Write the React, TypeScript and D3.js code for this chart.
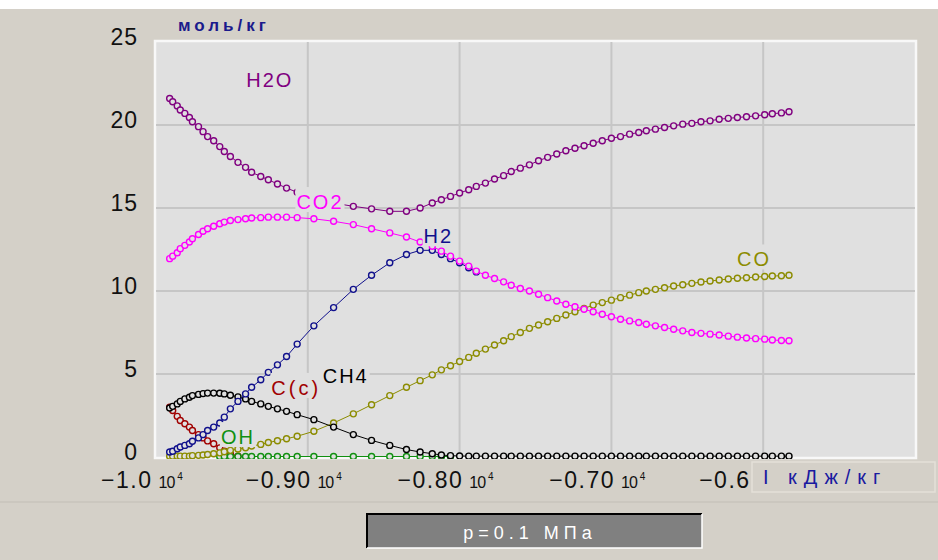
import React, { useRef, useEffect } from 'react';
import * as d3 from 'd3';

// enthalpy I, x 10^4 kJ/kg (shared grid of the calculation)
const I_VALUES = [
  -0.991, -0.989, -0.986, -0.984, -0.981, -0.978, -0.976, -0.972, -0.969, -0.966,
  -0.962, -0.958, -0.955, -0.951, -0.946, -0.941, -0.937, -0.931, -0.926, -0.920,
  -0.914, -0.907, -0.896, -0.883, -0.870, -0.858, -0.846, -0.835, -0.826, -0.818,
  -0.812, -0.806, -0.800, -0.794, -0.789, -0.783,
  -0.777, -0.771, -0.766, -0.760, -0.754, -0.748, -0.742, -0.736, -0.730, -0.724,
  -0.718, -0.712, -0.706, -0.700, -0.694, -0.688, -0.682, -0.677, -0.671, -0.665,
  -0.659, -0.653, -0.647, -0.641, -0.635, -0.629, -0.623, -0.617, -0.611, -0.605,
  -0.599, -0.594, -0.588, -0.583,
];

// mol/kg
const H2O = [
  21.6, 21.4, 21.15, 20.9, 20.7, 20.45, 20.2, 19.9, 19.6, 19.3,
  19.05, 18.7, 18.4, 18.1, 17.75, 17.45, 17.15, 16.9, 16.7, 16.45,
  16.2, 15.95, 15.6, 15.3, 15.1, 14.95, 14.8, 14.8, 15.0, 15.3,
  15.5, 15.7, 15.9, 16.1, 16.3, 16.5,
  16.75, 16.95, 17.2, 17.4, 17.6, 17.85, 18.05, 18.25, 18.45, 18.6,
  18.75, 18.9, 19.05, 19.2, 19.3, 19.45, 19.55, 19.65, 19.75, 19.85,
  19.95, 20.05, 20.1, 20.2, 20.25, 20.35, 20.4, 20.45, 20.5, 20.55,
  20.62, 20.68, 20.73, 20.8,
];

const CO2 = [
  11.95, 12.1, 12.3, 12.55, 12.75, 12.95, 13.15, 13.4, 13.6, 13.75,
  13.9, 14.05, 14.15, 14.25, 14.3, 14.35, 14.4, 14.42, 14.45, 14.45,
  14.45, 14.42, 14.35, 14.2, 14.0, 13.75, 13.5, 13.25, 12.95, 12.7,
  12.4, 12.1, 11.8, 11.5, 11.2, 10.95,
  10.75, 10.55, 10.35, 10.15, 10.0, 9.8, 9.6, 9.4, 9.2, 9.05,
  8.9, 8.75, 8.6, 8.45, 8.3, 8.2, 8.1, 8.0, 7.9, 7.8,
  7.7, 7.6, 7.5, 7.45, 7.4, 7.35, 7.28, 7.22, 7.17, 7.13,
  7.1, 7.05, 7.02, 7.0,
];

const H2 = [
  0.3, 0.35, 0.5, 0.6, 0.7, 0.8, 0.95, 1.15, 1.35, 1.6,
  1.8, 2.05, 2.4, 2.9, 3.35, 3.8, 4.2, 4.65, 5.1, 5.55,
  6.05, 6.8, 7.9, 9.0, 10.1, 10.95, 11.7, 12.2, 12.45, 12.45,
  12.2, 11.95, 11.7, 11.4, 11.15, null,
  null, null, null, null, null, null, null, null, null, null,
  null, null, null, null, null, null, null, null, null, null,
  null, null, null, null, null, null, null, null, null, null,
  null, null, null, null,
];

const CO = [
  0.05, 0.05, 0.05, 0.05, 0.05, 0.05, 0.08, 0.1, 0.12, 0.15,
  0.2, 0.25, 0.32, 0.4, 0.48, 0.56, 0.66, 0.76, 0.87, 0.98,
  1.1, 1.25, 1.55, 2.05, 2.6, 3.15, 3.7, 4.2, 4.6, 4.95,
  5.25, 5.5, 5.75, 6.0, 6.25, 6.5,
  6.75, 7.0, 7.25, 7.5, 7.75, 7.95, 8.15, 8.35, 8.55, 8.75,
  8.95, 9.15, 9.3, 9.45, 9.6, 9.75, 9.9, 10.0, 10.1, 10.2,
  10.3, 10.38, 10.46, 10.54, 10.6, 10.66, 10.72, 10.77, 10.8, 10.84,
  10.87, 10.9, 10.92, 10.95,
];

const CH4 = [
  2.95, 3.05, 3.2, 3.35, 3.5, 3.6, 3.7, 3.77, 3.82, 3.85,
  3.85, 3.84, 3.8, 3.72, 3.62, 3.5, 3.35, 3.2, 3.05, 2.9,
  2.75, 2.55, 2.25, 1.8, 1.35, 1.0, 0.7, 0.45, 0.3, 0.2,
  0.12, 0.08, 0.06, 0.05, 0.05, 0.05,
  0.05, 0.05, 0.05, 0.05, 0.05, 0.05, 0.05, 0.05, 0.05, 0.05,
  0.05, 0.05, 0.05, 0.05, 0.05, 0.05, 0.05, 0.05, 0.05, 0.05,
  0.05, 0.05, 0.05, 0.05, 0.05, 0.05, 0.05, 0.05, 0.05, 0.05,
  0.05, 0.05, 0.05, 0.05,
];

const C_SOLID = [
  3.0, 2.8, 2.45, 2.2, 2.0, 1.8, 1.6, 1.35, 1.15, 0.97,
  0.8, 0.55, 0.35, 0.18, 0.05, null, null, null, null, null,
  null, null, null, null, null, null, null, null, null, null,
  null, null, null, null, null, null,
  null, null, null, null, null, null, null, null, null, null,
  null, null, null, null, null, null, null, null, null, null,
  null, null, null, null, null, null, null, null, null, null,
  null, null, null, null,
];

const OH = [
  null, null, null, null, null, null, null, null, null, null,
  null, 0.03, 0.03, 0.03, 0.03, 0.03, 0.03, 0.03, 0.03, 0.03,
  0.03, 0.03, 0.03, 0.03, 0.03, 0.03, 0.03, 0.03, 0.03, 0.03,
  0.03, 0.03, null, null, null, null,
  null, null, null, null, null, null, null, null, null, null,
  null, null, null, null, null, null, null, null, null, null,
  null, null, null, null, null, null, null, null, null, null,
  null, null, null, null,
];

const Y_TICKS = [0, 5, 10, 15, 20, 25];
const X_TICKS = [-1.0, -0.9, -0.8, -0.7, -0.6];
const X_TICK_LABELS = ['\u22121.0', '\u22120.90', '\u22120.80', '\u22120.70', '\u22120.6'];
// the last label runs under the unit box, only its number shows
const X_TICK_EXP = [true, true, true, true, false];

// drawing order: later ones on top
const SERIES = [
  { name: 'C(c)', values: C_SOLID, color: '#a00000' },
  { name: 'OH', values: OH, color: '#109010' },
  { name: 'CO', values: CO, color: '#8c8c00' },
  { name: 'CH4', values: CH4, color: '#000000' },
  { name: 'H2', values: H2, color: '#10108c' },
  { name: 'H2O', values: H2O, color: '#800080' },
  { name: 'CO2', values: CO2, color: '#ff00ff' },
];

const LABELS = [
  { text: 'H2O', x: -0.925, y: 22.7, color: '#800080', anchor: 'middle', ls: 2 },
  { text: 'CO2', x: -0.892, y: 15.36, color: '#ff00ff', anchor: 'middle', ls: 2 },
  { text: 'H2', x: -0.814, y: 13.3, color: '#10108c', anchor: 'middle', ls: 2 },
  { text: 'CO', x: -0.606, y: 11.9, color: '#8c8c00', anchor: 'middle', ls: 2 },
  { text: 'C(c)', x: -0.924, y: 4.16, color: '#a00000', anchor: 'start', ls: 3 },
  { text: 'CH4', x: -0.875, y: 4.88, color: '#000000', anchor: 'middle', ls: 2 },
  { text: 'OH', x: -0.946, y: 1.2, color: '#109010', anchor: 'middle', ls: 2 },
];

const FONT = '"Liberation Sans", Arial, sans-serif';
const PANEL = '#d4d0c8';
const PLOT_BG = '#e0e0e0';

const EquilibriumChart = () => {
  const svgRef = useRef<SVGSVGElement>(null);

  useEffect(() => {
    const svg = d3.select(svgRef.current);
    svg.selectAll('*').remove();

    const width = 938;
    const height = 560;
    const left = 156, right = 915, top = 42, bottom = 457;

    const x = d3.scaleLinear().domain([-1.0, -0.5]).range([left, right]);
    const y = d3.scaleLinear().domain([0, 25]).range([bottom, top]);

    svg.append('rect').attr('width', width).attr('height', height).attr('fill', PANEL);
    svg.append('rect').attr('width', width).attr('height', 9).attr('fill', '#ffffff');

    // plot area
    svg.append('rect')
      .attr('x', left - 1).attr('y', top - 1)
      .attr('width', right - left + 2).attr('height', bottom - top + 2)
      .attr('fill', PLOT_BG)
      .attr('stroke', '#f8f8f8')
      .attr('stroke-width', 2.5);

    const grid = svg.append('g');
    grid.selectAll('.hg')
      .data(Y_TICKS.filter(d => d > 0 && d < 25))
      .enter().append('line')
      .attr('x1', left).attr('x2', right)
      .attr('y1', d => y(d)).attr('y2', d => y(d))
      .attr('stroke', '#c6c6c6').attr('stroke-width', 2);
    grid.selectAll('.vg')
      .data(X_TICKS.filter(d => d > -1.0))
      .enter().append('line')
      .attr('y1', top).attr('y2', bottom)
      .attr('x1', d => x(d)).attr('x2', d => x(d))
      .attr('stroke', '#c6c6c6').attr('stroke-width', 2);

    svg.append('clipPath').attr('id', 'plotClip')
      .append('rect')
      .attr('x', left).attr('y', top - 4)
      .attr('width', right - left).attr('height', bottom - top + 6);

    const plot = svg.append('g').attr('clip-path', 'url(#plotClip)');

    SERIES.forEach(s => {
      const pts = I_VALUES.map((iv, k) => ({ i: iv, v: s.values[k] }));
      const line = d3.line<{ i: number; v: number | null }>()
        .defined(d => d.v != null)
        .x(d => x(d.i))
        .y(d => y(d.v as number));
      const g = plot.append('g');
      g.append('path')
        .datum(pts)
        .attr('d', line)
        .attr('fill', 'none')
        .attr('stroke', s.color)
        .attr('stroke-width', 1);
      g.selectAll('circle')
        .data(pts.filter(d => d.v != null))
        .enter().append('circle')
        .attr('cx', d => x(d.i))
        .attr('cy', d => y(d.v as number))
        .attr('r', 3)
        .attr('fill', PLOT_BG)
        .attr('stroke', s.color)
        .attr('stroke-width', 1.4);
    });

    // series labels with background boxes
    LABELS.forEach(l => {
      const g = plot.append('g');
      const t = g.append('text')
        .attr('x', x(l.x))
        .attr('y', y(l.y) + 7)
        .attr('text-anchor', l.anchor)
        .attr('font-family', FONT)
        .attr('font-size', 20)
        .attr('letter-spacing', l.ls)
        .attr('fill', l.color)
        .text(l.text);
      const bb = (t.node() as SVGTextElement).getBBox();
      const padL = l.text === 'CH4' ? 5 : 1;
      g.insert('rect', 'text')
        .attr('x', bb.x - padL)
        .attr('y', bb.y - 4)
        .attr('width', bb.width + padL + 1)
        .attr('height', bb.height + 3)
        .attr('fill', PLOT_BG);
    });

    // y tick labels
    svg.append('g').selectAll('text')
      .data(Y_TICKS)
      .enter().append('text')
      .attr('x', 138)
      .attr('y', d => y(d) + 3)
      .attr('text-anchor', 'end')
      .attr('font-family', FONT)
      .attr('font-size', 23)
      .attr('letter-spacing', 1)
      .attr('fill', '#111')
      .text(d => d);

    // x tick labels: "-0.90 10^4"
    X_TICKS.forEach((v, k) => {
      const t = svg.append('text')
        .attr('y', 488)
        .attr('font-family', FONT)
        .attr('fill', '#111');
      if (X_TICK_EXP[k]) {
        t.attr('x', x(v) - 14).attr('text-anchor', 'middle');
      } else {
        t.attr('x', x(v) - 64).attr('text-anchor', 'start');
      }
      t.append('tspan').attr('font-size', 23).attr('letter-spacing', 1.5).text(X_TICK_LABELS[k]);
      if (X_TICK_EXP[k]) {
        t.append('tspan').attr('dx', 6).attr('font-size', 16).attr('letter-spacing', -1).text('10');
        t.append('tspan').attr('dx', 3).attr('dy', -8).attr('font-size', 10).text('4');
      }
    });

    // y unit
    svg.append('text')
      .attr('x', 178).attr('y', 31)
      .attr('font-family', FONT)
      .attr('font-size', 17)
      .attr('font-weight', 'bold')
      .attr('letter-spacing', 4)
      .attr('fill', '#1a1a8c')
      .text('моль/кг');

    // x unit box
    svg.append('rect')
      .attr('x', 752).attr('y', 462).attr('width', 183).attr('height', 30)
      .attr('fill', PANEL)
      .attr('stroke', '#e4e0d8').attr('stroke-width', 1.5);
    svg.append('text')
      .attr('x', 763).attr('y', 484)
      .attr('font-family', FONT)
      .attr('font-size', 20)
      .attr('letter-spacing', 7)
      .attr('fill', '#1a1aa0')
      .text('I кДж/кг');

    // separator line
    svg.append('line')
      .attr('x1', 0).attr('x2', width).attr('y1', 502).attr('y2', 502)
      .attr('stroke', '#c8c4bc').attr('stroke-width', 1.5);

    // pressure panel
    svg.append('rect')
      .attr('x', 367).attr('y', 514).attr('width', 335).attr('height', 34)
      .attr('fill', '#808080');
    svg.append('path')
      .attr('d', 'M367,548 L367,514 L702,514')
      .attr('fill', 'none').attr('stroke', '#000').attr('stroke-width', 2);
    svg.append('path')
      .attr('d', 'M367,548 L702,548 L702,514')
      .attr('fill', 'none').attr('stroke', '#ffffff').attr('stroke-width', 1.5);
    svg.append('text')
      .attr('x', 530).attr('y', 539)
      .attr('text-anchor', 'middle')
      .attr('font-family', FONT)
      .attr('font-size', 18)
      .attr('letter-spacing', 5)
      .attr('fill', '#ffffff')
      .text('p=0.1 МПа');
  }, []);

  return <svg ref={svgRef} width={938} height={560} style={{ display: 'block' }}></svg>;
};

export default function App() {
  return (
    <div style={{ position: 'absolute', left: 0, top: 0 }}>
      <EquilibriumChart />
    </div>
  );
}
